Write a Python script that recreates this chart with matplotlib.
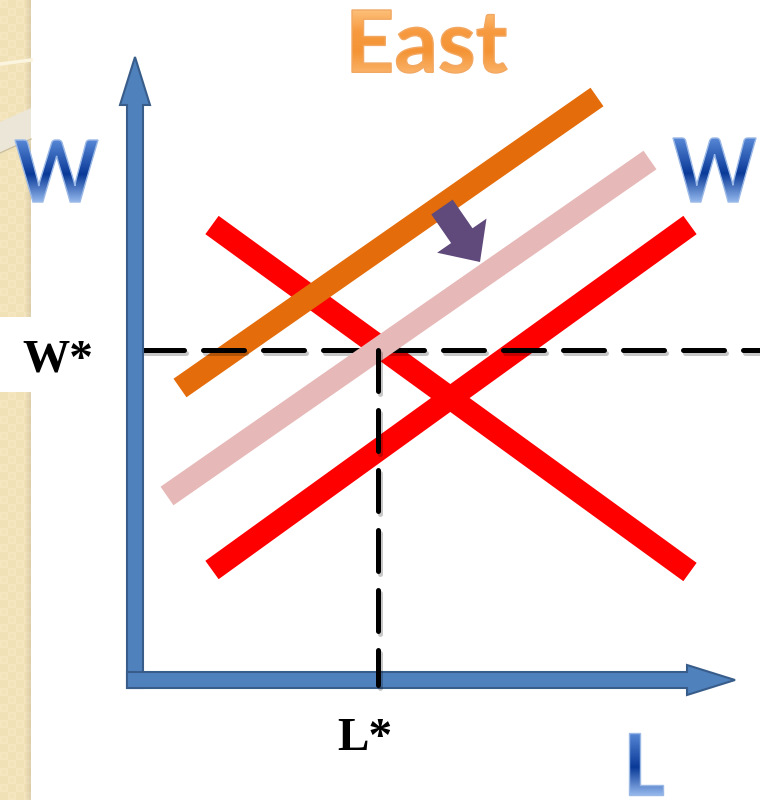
import numpy as np
import matplotlib
matplotlib.use("Agg")
import matplotlib.pyplot as plt
from matplotlib.textpath import TextPath
from matplotlib.font_manager import FontProperties
from matplotlib.patches import PathPatch, FancyArrow, Polygon, Rectangle
from matplotlib.colors import LinearSegmentedColormap, to_rgb
from matplotlib.transforms import Affine2D
import matplotlib.patheffects as pe

# ---------------- data (economic units: L on x, W on y) ----------------
supply_old_L = [4.5, 46.2]      # orange (original supply)
supply_old_W = [29.2, 58.3]
supply_mid_L = [3.2, 51.5]      # pink (intermediate supply)
supply_mid_W = [18.4, 52.0]
supply_new_L = [7.7, 55.5]      # red (new supply)
supply_new_W = [11.0, 45.5]
demand_L = [7.7, 55.5]          # red (demand)
demand_W = [45.5, 10.8]
w_star = 33.0
l_star = 24.3
shift_L = [30.7, 34.5]          # purple shift arrow
shift_W = [47.3, 41.8]

title = "East"
y_label = "W"
x_label = "L"
w_star_label = "W*"
l_star_label = "L*"

# ---------------- figure ----------------
fig = plt.figure(figsize=(7.6, 8.0), dpi=100)
fig.patch.set_facecolor("white")

# decoration axes (pixel coordinates)
deco = fig.add_axes([0, 0, 1, 1], zorder=0)
deco.set_xlim(0, 760)
deco.set_ylim(800, 0)
deco.axis("off")

# textured strip on left
H, Wd = 800, 31
yy, xx = np.mgrid[0:H, 0:Wd]
c1 = np.array(to_rgb("#f5e6bf"))
c2 = np.array(to_rgb("#eddcb0"))
cell = 8
chk = ((xx // cell + yy // cell) % 2).astype(float)
inner = (((xx % cell) > 1) & ((xx % cell) < 6) & ((yy % cell) > 1) & ((yy % cell) < 6)).astype(float)
mix = 0.5 * chk + 0.3 * inner * (1 - chk)
img = c1[None, None, :] * (1 - mix[..., None]) + c2[None, None, :] * mix[..., None]
shade = np.clip((xx - 24) / 7.0, 0, 1) * 0.1
img = img * (1 - shade[..., None])
deco.imshow(img, extent=(0, 31, 800, 0), origin="upper", aspect="auto", zorder=1,
            interpolation="bilinear")
# curved bands on the strip
deco.add_patch(Polygon([(0, 122), (31, 108), (31, 140), (0, 154)], closed=True,
                       facecolor="#ebe6d8", edgecolor="none", zorder=2))
deco.plot([0, 31], [153, 139], color="#cdbf98", lw=1.0, zorder=2)
deco.plot([0, 31], [64, 60], color="#fbf4de", lw=2.5, zorder=2)
# white box behind W*
deco.add_patch(Rectangle((0, 317), 31, 75, facecolor="white", edgecolor="none", zorder=3))


def gradient_text(ax, s, box, colors, fp, edge):
    x0, y0, x1, y1 = box
    tp = TextPath((0, 0), s, size=100, prop=fp)
    ext = tp.get_extents()
    sx = (x1 - x0) / ext.width
    sy = (y1 - y0) / ext.height
    tr = Affine2D().translate(-ext.x0, -ext.y0).scale(sx, -sy).translate(x0, y1)
    path = tr.transform_path(tp)
    patch = PathPatch(path, facecolor="none", edgecolor=edge, lw=1.0, zorder=6)
    ax.add_patch(patch)
    cmap = LinearSegmentedColormap.from_list("g", colors)
    grad = np.linspace(0, 1, 256)[:, None]
    im = ax.imshow(grad, cmap=cmap, extent=(x0 - 2, x1 + 2, y1 + 2, y0 - 2),
                   origin="upper", aspect="auto", zorder=5)
    im.set_clip_path(PathPatch(path, transform=ax.transData))


fp_bold = FontProperties(family="Lato", weight="bold")
blue_grad = [(0.0, "#5b8bd8"), (0.55, "#0a3a98"), (1.0, "#9dc0f2")]
orange_grad = [(0.0, "#fdc37f"), (0.35, "#f79a40"), (0.65, "#f49436"), (1.0, "#fbb56c")]

gradient_text(deco, y_label, (15, 140, 98, 202), blue_grad, fp_bold, "#9ab8e6")
gradient_text(deco, y_label, (673, 138, 756, 202), blue_grad, fp_bold, "#9ab8e6")
gradient_text(deco, x_label, (629, 733, 663, 795), blue_grad, fp_bold, "#9ab8e6")
gradient_text(deco, title, (352, 10, 507, 73), orange_grad, fp_bold, "#f2a862")
deco.set_xlim(0, 760)
deco.set_ylim(800, 0)

# chart axes (economic units, 10 px per unit)
ax = fig.add_axes([0, 0, 1, 1], zorder=1)
ax.set_xlim(-13.5, 62.5)
ax.set_ylim(-12, 68)
ax.patch.set_alpha(0)
ax.axis("off")

lw_curve = 16.3
ax.plot(demand_L, demand_W, color="#ff0000", lw=lw_curve, solid_capstyle="butt", zorder=2)
ax.plot(supply_new_L, supply_new_W, color="#ff0000", lw=lw_curve, solid_capstyle="butt", zorder=2)
ax.plot(supply_old_L, supply_old_W, color="#e46c0a", lw=lw_curve, solid_capstyle="butt", zorder=3)

shadow = [pe.SimpleLineShadow(offset=(1.5, -2.5), shadow_color="black", alpha=0.22), pe.Normal()]
ax.plot([0.8, 63], [w_star, w_star], color="black", lw=3.6,
        linestyle=(0, (8.2, 3.8)), dash_capstyle="round", zorder=4, path_effects=shadow)
ax.plot([l_star, l_star], [w_star, -0.5], color="black", lw=3.6,
        linestyle=(0, (8.2, 3.8)), dash_capstyle="round", zorder=8, path_effects=shadow)

ax.plot(supply_mid_L, supply_mid_W, color="#e6b9b8", lw=lw_curve, solid_capstyle="butt", zorder=5)

# axes arrows
axis_face = "#4f81bd"
axis_edge = "#385d8a"
ax.add_patch(FancyArrow(0, -0.8, 0, 63.1, width=1.6, head_width=3.0, head_length=4.8,
                        length_includes_head=True, facecolor=axis_face, edgecolor=axis_edge,
                        lw=1.5, zorder=7))
ax.add_patch(FancyArrow(-0.8, 0, 60.8, 0, width=1.6, head_width=3.0, head_length=4.8,
                        length_includes_head=True, facecolor=axis_face, edgecolor=axis_edge,
                        lw=1.5, zorder=7))

# shift arrow
ax.add_patch(FancyArrow(shift_L[0], shift_W[0], shift_L[1] - shift_L[0], shift_W[1] - shift_W[0],
                        width=2.6, head_width=6.0, head_length=3.2, length_includes_head=True,
                        facecolor="#604a7b", edgecolor="none", zorder=9))

# labels
ax.text(-7.7, 30.8, w_star_label, ha="center", va="baseline", fontsize=34,
        fontweight="bold", family="Liberation Serif", color="black", zorder=10)
ax.text(23.0, -7.0, l_star_label, ha="center", va="baseline", fontsize=34,
        fontweight="bold", family="Liberation Serif", color="black", zorder=10)

fig.savefig("out.png", dpi=100, facecolor="white")
